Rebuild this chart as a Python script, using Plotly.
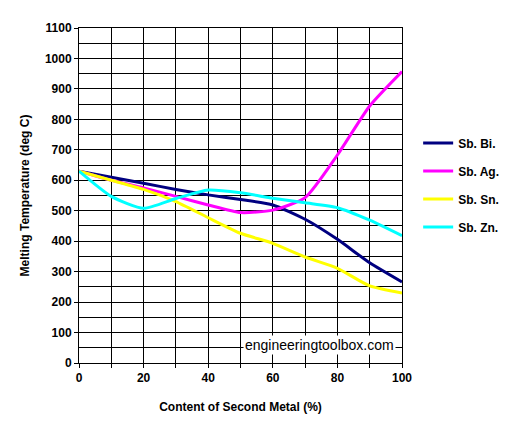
import plotly.graph_objects as go

content = [0, 10, 20, 30, 40, 50, 60, 70, 80, 90, 100]

sb_bi = [630, 610, 590, 570, 552, 537, 519, 472, 406, 329, 266]
sb_ag = [630, 600, 575, 547, 519, 494, 502, 543, 683, 844, 957]
sb_sn = [630, 600, 570, 530, 477, 426, 393, 348, 311, 253, 230]
sb_zn = [630, 547, 508, 540, 568, 559, 541, 526, 510, 469, 418]

series = [
    ("Sb. Bi.", sb_bi, "#000080"),
    ("Sb. Ag.", sb_ag, "#FF00FF"),
    ("Sb. Sn.", sb_sn, "#FFFF00"),
    ("Sb. Zn.", sb_zn, "#00FFFF"),
]

font_main = "Liberation Sans, Arial, sans-serif"

fig = go.Figure()
for name, vals, color in series:
    fig.add_trace(go.Scatter(
        x=content, y=vals, name=name, mode="lines", legendgroup=name,
        line=dict(color=color, width=3, shape="spline", smoothing=0.6)
    ))

axis_common = dict(
    showline=True, linecolor="black", linewidth=1, mirror=True,
    showgrid=True, gridcolor="black", gridwidth=1,
    zeroline=False, ticks="outside", ticklen=4, tickcolor="black",
    automargin=False,
    tickfont=dict(family=font_main, size=12, color="black", weight="bold"),
)

fig.update_xaxes(
    range=[0, 100], dtick=20, tick0=0,
    minor=dict(dtick=10, showgrid=True, gridcolor="black", gridwidth=1,
               ticks="outside", ticklen=4, tickcolor="black"),
    title=dict(text="Content of Second Metal (%)", standoff=18,
               font=dict(family=font_main, size=12, color="black", weight="bold")),
    **axis_common
)
fig.update_yaxes(
    range=[0, 1100], dtick=100, tick0=0,
    minor=dict(dtick=50, showgrid=True, gridcolor="black", gridwidth=1),
    title=dict(text="Melting Temperature (deg C)", standoff=12,
               font=dict(family=font_main, size=12, color="black", weight="bold")),
    **axis_common
)

fig.add_annotation(
    text="engineeringtoolbox.com", xref="x", yref="y", x=98, y=27,
    xanchor="right", yanchor="bottom", showarrow=False,
    bgcolor="white", borderpad=1,
    font=dict(family=font_main, size=14, color="black"),
)

# page body adds an 8px offset, so margins are shifted to compensate
fig.update_layout(
    width=520, height=434,
    margin=dict(l=71, r=126, t=20, b=79),
    plot_bgcolor="white", paper_bgcolor="white",
    showlegend=True,
    legend=dict(x=1.05, y=0.70, xanchor="left", yanchor="top",
                tracegroupgap=9, itemwidth=30,
                font=dict(family=font_main, size=12, color="black", weight="bold")),
)

fig.write_html("out.html")
